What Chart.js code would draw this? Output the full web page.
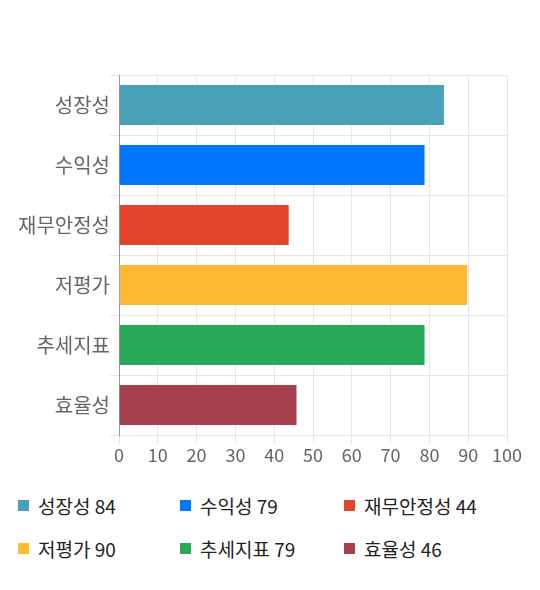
<!DOCTYPE html>
<html><head><meta charset="utf-8">
<script src="https://cdn.jsdelivr.net/npm/chart.js@4"></script>
<style>
html,body{margin:0;padding:0;background:#fff;}
#wrap{position:relative;width:540px;height:480px;}
#legend{position:absolute;left:0;top:492px;width:540px;font-family:'Noto Sans CJK KR','Noto Sans',sans-serif;font-size:19px;color:#222;}
.item{position:absolute;display:flex;align-items:center;white-space:nowrap;}
.sw{width:11px;height:11px;margin-right:9px;}
</style></head>
<body>
<div id="wrap"><canvas id="c" width="540" height="480"></canvas></div>
<div id="legend"></div>
<script>
const categories = ['성장성','수익성','재무안정성','저평가','추세지표','효율성'];
const values = [84, 79, 44, 90, 79, 46];
const colors = ['#4aa0b8','#0077ff','#e2452a','#ffba35','#28a957','#a5404e'];
const xTicks = [0,10,20,30,40,50,60,70,80,90,100];

const font = "'Noto Sans CJK KR','Noto Sans',sans-serif";
new Chart(document.getElementById('c'), {
  type: 'bar',
  data: { labels: categories, datasets: [{ data: values, backgroundColor: colors, borderColor: 'rgba(255,255,255,0.35)', borderWidth: 1, barPercentage: 0.7, categoryPercentage: 1.0 }] },
  options: {
    indexAxis: 'y', responsive: false, animation: false,
    devicePixelRatio: 1,
    layout: { padding: { left: 0, top: 75, right: 33, bottom: 0 } },
    plugins: { legend: { display: false }, tooltip: { enabled: false } },
    scales: {
      x: {
        min: 0, max: 100,
        afterBuildTicks: s => { s.ticks = xTicks.map(v => ({ value: v })); },
        afterFit: s => { s.height = 45; },
        grid: { color: '#e6e6e6', tickLength: 8, drawTicks: true },
        border: { display: false },
        ticks: { color: '#666', font: { family: font, size: 18 }, padding: 1, maxRotation: 0, autoSkip: false }
      },
      y: {
        afterFit: s => { s.width = 119; },
        grid: { color: '#e6e6e6', tickLength: 9, offset: true },
        border: { color: '#999' },
        ticks: { color: '#666', font: { family: font, size: 20 }, padding: 0 }
      }
    }
  }
});
const lg = document.getElementById('legend');
const cols = [18, 180, 344], rows = [0, 43];
categories.forEach((c, i) => {
  const d = document.createElement('div');
  d.className = 'item';
  d.style.left = cols[i % 3] + 'px';
  d.style.top = rows[Math.floor(i / 3)] + 'px';
  d.innerHTML = '<span class="sw" style="background:' + colors[i] + '"></span><span>' + c + ' ' + values[i] + '</span>';
  lg.appendChild(d);
});
</script>
</body></html>
